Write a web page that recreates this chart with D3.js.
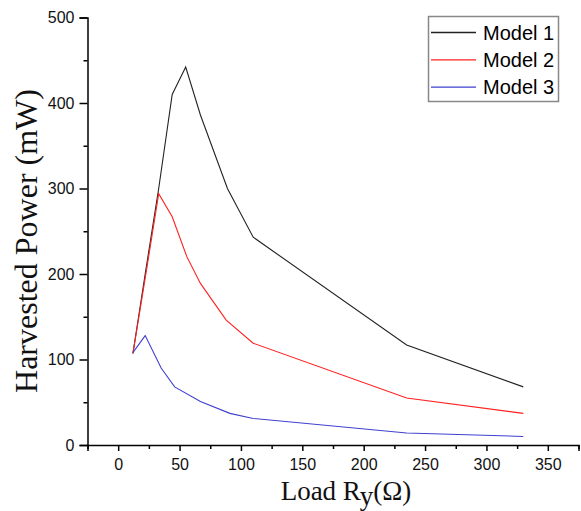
<!DOCTYPE html>
<html>
<head>
<meta charset="utf-8">
<script src="https://cdn.jsdelivr.net/npm/d3@7"></script>
<style>
  body { margin: 0; background: #fff; }
  svg text { font-family: "Liberation Sans", Arial, sans-serif; }
</style>
</head>
<body>
<div id="chart"></div>
<script>
// load values (ohm) and harvested power (mW)
var load1 = [12, 22, 33, 44, 55, 67, 89, 110, 235, 330];
var model1 = [107, 200, 300, 410, 442, 386, 300, 243, 117, 68];

var load2 = [12, 22, 33, 44, 56, 67, 88, 110, 235, 330];
var model2 = [107, 195, 294, 267, 220, 189, 146, 119, 55, 37];

var load3 = [12, 22, 35, 46, 67, 91, 110, 235, 330];
var model3 = [108, 128, 90, 68, 51, 37, 31, 14, 10];

var seriesNames = ["Model 1", "Model 2", "Model 3"];
var seriesColors = ["#222222", "#ff2020", "#4040d0"];

var xTicks = [0, 50, 100, 150, 200, 250, 300, 350];
var yTicks = [0, 100, 200, 300, 400, 500];

var width = 581, height = 511;

var svg = d3.select("#chart").append("svg")
  .attr("width", width)
  .attr("height", height);

var x = d3.scaleLinear().domain([-25, 375]).range([87.5, 578.5]);
var y = d3.scaleLinear().domain([0, 500]).range([445, 17.5]);

// bottom axis, minor ticks first then major with labels
svg.append("g")
  .attr("transform", "translate(0," + y(0) + ")")
  .call(d3.axisBottom(x).tickValues(d3.range(-25, 376, 50)).tickSize(4).tickFormat(""))
  .call(g => g.select(".domain").remove());

var xAxis = svg.append("g")
  .attr("transform", "translate(0," + y(0) + ")")
  .call(d3.axisBottom(x).tickValues(xTicks).tickSizeOuter(0).tickSize(6).tickPadding(8));
xAxis.selectAll("text").style("font-size", "16px").attr("fill", "#111");

svg.append("g")
  .attr("transform", "translate(" + x(-25) + ",0)")
  .call(d3.axisLeft(y).tickValues(d3.range(50, 500, 100)).tickSize(4).tickFormat(""))
  .call(g => g.select(".domain").remove());

var yAxis = svg.append("g")
  .attr("transform", "translate(" + x(-25) + ",0)")
  .call(d3.axisLeft(y).tickValues(yTicks).tickSizeOuter(0).tickSize(8).tickPadding(5));
yAxis.selectAll("text").style("font-size", "16px").attr("fill", "#111");

svg.selectAll(".domain, .tick line").attr("stroke", "#000").attr("stroke-width", 1.5);

// lines
var line = d3.line()
  .x(d => x(d[0]))
  .y(d => y(d[1]));

var series = [
  d3.zip(load1, model1),
  d3.zip(load2, model2),
  d3.zip(load3, model3)
];

series.forEach(function(s, i) {
  svg.append("path")
    .datum(s)
    .attr("fill", "none")
    .attr("stroke", seriesColors[i])
    .attr("stroke-width", 1.1)
    .attr("d", line);
});

// legend
var legend = svg.append("g");
legend.append("rect")
  .attr("x", 428.5).attr("y", 16.5)
  .attr("width", 130).attr("height", 85)
  .attr("fill", "#fff")
  .attr("stroke", "#888")
  .attr("stroke-width", 1.5);

seriesNames.forEach(function(name, i) {
  var cy = 32.5 + i * 27.3;
  legend.append("line")
    .attr("x1", 431).attr("x2", 476)
    .attr("y1", cy).attr("y2", cy)
    .attr("stroke", seriesColors[i])
    .attr("stroke-width", 1.3);
  legend.append("text")
    .attr("x", 483).attr("y", cy + 7)
    .style("font-size", "20px")
    .attr("fill", "#000")
    .text(name);
});

// axis titles
svg.append("text")
  .attr("transform", "translate(37,241) rotate(-90)")
  .attr("text-anchor", "middle")
  .style("font-family", "'Liberation Serif', 'Times New Roman', serif")
  .style("font-size", "32px")
  .attr("fill", "#111")
  .text("Harvested Power (mW)");

var xt = svg.append("text")
  .attr("x", 346).attr("y", 500)
  .attr("text-anchor", "middle")
  .style("font-family", "'Liberation Serif', 'Times New Roman', serif")
  .style("font-size", "27px")
  .attr("fill", "#111");
xt.append("tspan").text("Load R");
xt.append("tspan").attr("dy", 5).text("y");
xt.append("tspan").attr("dy", -5).text("(Ω)");
</script>
</body>
</html>
